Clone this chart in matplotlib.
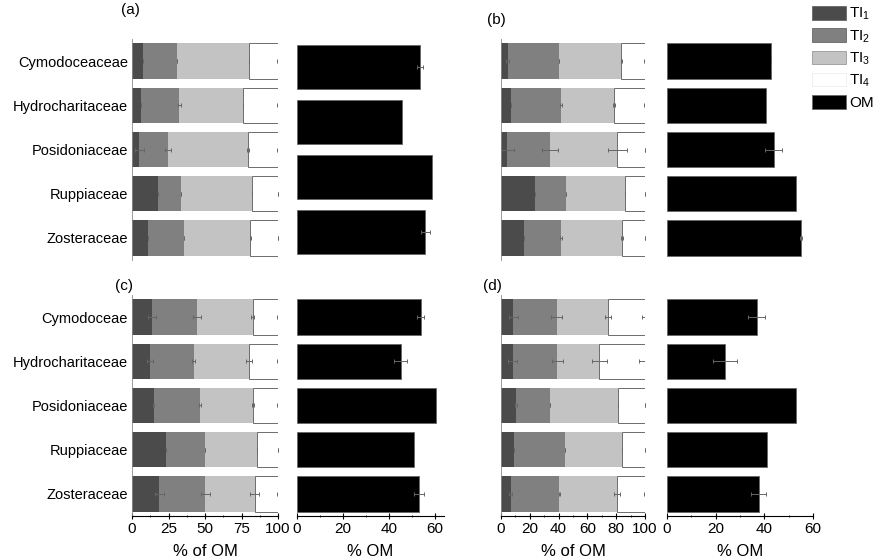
#!/usr/bin/env python
# -*- coding: utf-8 -*-

""" Trophic index (TI1-TI4) shares of organic matter and %OM per seagrass family.

Usage: python plot.py
Output image file: out.png
"""

import matplotlib
matplotlib.use('Agg')
import matplotlib.pyplot as plt
from matplotlib.patches import Patch
from matplotlib.ticker import MultipleLocator

plt.rcParams['font.family'] = ['Liberation Sans', 'DejaVu Sans']
plt.rcParams['mathtext.default'] = 'regular'

families_top = ['Cymodoceaceae', 'Hydrocharitaceae', 'Posidoniaceae', 'Ruppiaceae', 'Zosteraceae']
families_bottom = ['Cymodoceae', 'Hydrocharitaceae', 'Posidoniaceae', 'Ruppiaceae', 'Zosteraceae']

# panel (a)
a_ti1 = [7.8, 6.2, 5.0, 17.7, 11.3]
a_ti2 = [23.0, 26.2, 19.6, 16.1, 24.1]
a_ti3 = [49.0, 43.6, 54.7, 48.2, 45.6]
a_ti4 = [20.2, 24.0, 20.7, 18.0, 19.0]
a_err1 = [0, 0, 3.0, 0, 0]
a_err2 = [0, 1.0, 2.0, 0, 0]
a_err3 = [0, 0, 0.5, 0, 0.5]
a_err4 = [0.5, 0.5, 1.0, 0, 0]
a_om = [53.5, 45.5, 58.8, 55.8]
a_om_err = [1.4, 0, 0, 2.0]

# panel (b)
b_ti1 = [4.6, 7.0, 4.2, 23.9, 15.8]
b_ti2 = [35.4, 34.8, 30.1, 21.4, 26.0]
b_ti3 = [43.5, 36.7, 46.5, 40.7, 42.2]
b_ti4 = [16.5, 21.5, 19.2, 14.0, 16.0]
b_err1 = [1.0, 0, 4.6, 0, 0]
b_err2 = [0, 0.5, 5.6, 0, 0.5]
b_err3 = [0.5, 0.5, 6.4, 0, 0.5]
b_err4 = [1.0, 1.0, 0, 0, 0]
b_om = [42.7, 40.6, 43.8, 53.0, 55.0]
b_om_err = [0, 0, 3.4, 0, 0.5]

# panel (c)
c_ti1 = [13.7, 12.6, 14.8, 23.3, 18.8]
c_ti2 = [30.9, 29.7, 31.9, 26.6, 31.3]
c_ti3 = [38.2, 37.6, 36.1, 35.7, 33.9]
c_ti4 = [17.2, 20.1, 17.2, 14.4, 16.0]
c_err1 = [3.0, 2.0, 0.5, 0, 3.0]
c_err2 = [3.0, 1.0, 0.5, 0, 3.0]
c_err3 = [1.0, 2.0, 0.5, 0, 3.0]
c_err4 = [0.5, 1.0, 0.5, 0, 1.0]
c_om = [53.8, 45.1, 60.4, 50.9, 53.1]
c_om_err = [1.5, 3.0, 0, 0, 2.0]

# panel (d)
d_ti1 = [8.6, 8.1, 10.4, 9.3, 6.7]
d_ti2 = [30.1, 31.0, 23.6, 35.1, 33.8]
d_ti3 = [35.8, 29.2, 47.5, 39.8, 39.8]
d_ti4 = [25.5, 31.7, 18.5, 15.8, 19.7]
d_err1 = [3.0, 3.0, 0.5, 0, 1.0]
d_err2 = [4.0, 4.0, 0, 0, 0.5]
d_err3 = [2.0, 5.0, 0, 0, 2.0]
d_err4 = [2.0, 4.0, 0, 0, 1.0]
d_om = [36.8, 23.9, 52.9, 41.2, 37.7]
d_om_err = [3.4, 4.8, 0, 0, 3.0]

TI_COLORS = ['#4b4b4b', '#808080', '#c3c3c3', '#ffffff']
ERR_COLOR = '#666666'
W, H = 877, 558


def fig_rect(x0, y0, x1, y1):
    return [x0 / W, 1 - y1 / H, (x1 - x0) / W, (y1 - y0) / H]


def draw_stack(ax, segs, errs):
    n = len(segs[0])
    y = list(range(n))
    left = [0.0] * n
    for k, (seg, err) in enumerate(zip(segs, errs)):
        edge = '#555555' if k == 3 else 'none'
        ax.barh(y, seg, left=left, height=0.8, color=TI_COLORS[k],
                edgecolor=edge, linewidth=0.6)
        left = [l + s for l, s in zip(left, seg)]
        ax.errorbar(left, y, xerr=err, fmt='none', ecolor=ERR_COLOR,
                    elinewidth=0.7, capsize=1.2, capthick=0.7)
    ax.set_xlim(0, 100)
    ax.set_ylim(n - 0.5, -0.5)


def draw_om(ax, om, err, xmax):
    y = list(range(len(om)))
    ax.barh(y, om, height=0.8, color='black', edgecolor='#666666', linewidth=0.6)
    ax.errorbar(om, y, xerr=err, fmt='none', ecolor=ERR_COLOR,
                elinewidth=0.7, capsize=1.2, capthick=0.7)
    ax.set_xlim(0, xmax)
    ax.set_ylim(len(om) - 0.5, -0.5)
    ax.set_yticks([])


def style(ax, bottom_row):
    for side in ['top', 'right']:
        ax.spines[side].set_visible(False)
    ax.spines['left'].set_linewidth(0.6)
    ax.spines['left'].set_color('#888888')
    if bottom_row:
        ax.spines['bottom'].set_linewidth(0.8)
        ax.tick_params(axis='x', which='major', direction='inout', length=4,
                       width=0.8, labelsize=11, pad=2)
        ax.tick_params(axis='x', which='minor', direction='inout', length=2, width=0.6)
    else:
        ax.spines['bottom'].set_visible(False)
        ax.set_xticks([])
    ax.tick_params(axis='y', length=0, labelsize=10.5, pad=3)


def main():
    fig = plt.figure(figsize=(W / 100, H / 100), dpi=100)

    top = (39, 260)
    bot = (295, 516)
    ax_a = fig.add_axes(fig_rect(132, top[0], 278, top[1]))
    ax_a_om = fig.add_axes(fig_rect(297, top[0], 444, top[1]))
    ax_b = fig.add_axes(fig_rect(501, top[0], 645, top[1]))
    ax_b_om = fig.add_axes(fig_rect(667, top[0], 813, top[1]))
    ax_c = fig.add_axes(fig_rect(132, bot[0], 278, bot[1]))
    ax_c_om = fig.add_axes(fig_rect(297, bot[0], 444, bot[1]))
    ax_d = fig.add_axes(fig_rect(501, bot[0], 645, bot[1]))
    ax_d_om = fig.add_axes(fig_rect(667, bot[0], 813, bot[1]))

    draw_stack(ax_a, [a_ti1, a_ti2, a_ti3, a_ti4], [a_err1, a_err2, a_err3, a_err4])
    draw_stack(ax_b, [b_ti1, b_ti2, b_ti3, b_ti4], [b_err1, b_err2, b_err3, b_err4])
    draw_stack(ax_c, [c_ti1, c_ti2, c_ti3, c_ti4], [c_err1, c_err2, c_err3, c_err4])
    draw_stack(ax_d, [d_ti1, d_ti2, d_ti3, d_ti4], [d_err1, d_err2, d_err3, d_err4])

    draw_om(ax_a_om, a_om, a_om_err, 64)
    draw_om(ax_b_om, b_om, b_om_err, 60)
    draw_om(ax_c_om, c_om, c_om_err, 64)
    draw_om(ax_d_om, d_om, d_om_err, 60)

    ax_a.set_yticks(range(len(families_top)))
    ax_a.set_yticklabels(families_top)
    ax_c.set_yticks(range(len(families_bottom)))
    ax_c.set_yticklabels(families_bottom)
    for ax in [ax_b, ax_d]:
        ax.set_yticks([])

    for ax in [ax_a, ax_a_om, ax_b, ax_b_om]:
        style(ax, False)
    for ax in [ax_c, ax_c_om, ax_d, ax_d_om]:
        style(ax, True)
    for ax in [ax_a_om, ax_b_om, ax_c_om, ax_d_om]:
        ax.spines['left'].set_visible(False)

    ax_c.set_xticks([0, 25, 50, 75, 100])
    ax_c.xaxis.set_minor_locator(MultipleLocator(12.5))
    ax_d.set_xticks([0, 20, 40, 60, 80, 100])
    ax_d.xaxis.set_minor_locator(MultipleLocator(10))
    for ax in [ax_c_om, ax_d_om]:
        ax.set_xticks([0, 20, 40, 60])
        ax.xaxis.set_minor_locator(MultipleLocator(10))

    for ax in [ax_c, ax_d]:
        ax.set_xlabel('% of OM', fontsize=12, labelpad=6)
    for ax in [ax_c_om, ax_d_om]:
        ax.set_xlabel('% OM', fontsize=12, labelpad=6)

    fig.text(130 / W, 1 - 10 / H, '(a)', fontsize=11, ha='center', va='center')
    fig.text(496 / W, 1 - 20 / H, '(b)', fontsize=11, ha='center', va='center')
    fig.text(124 / W, 1 - 286 / H, '(c)', fontsize=11, ha='center', va='center')
    fig.text(492 / W, 1 - 286 / H, '(d)', fontsize=11, ha='center', va='center')

    handles = [Patch(facecolor=TI_COLORS[0], edgecolor='#666666', linewidth=0.6),
               Patch(facecolor=TI_COLORS[1], edgecolor='#666666', linewidth=0.6),
               Patch(facecolor=TI_COLORS[2], edgecolor='#999999', linewidth=0.6),
               Patch(facecolor=TI_COLORS[3], edgecolor='#eeeeee', linewidth=0.6),
               Patch(facecolor='black', edgecolor='#666666', linewidth=0.6)]
    labels = ['TI$_1$', 'TI$_2$', 'TI$_3$', 'TI$_4$', 'OM']
    fig.legend(handles, labels, loc='upper left', bbox_to_anchor=(812 / W, 1 - 6 / H),
               frameon=False, fontsize=11, handlelength=2.2, handleheight=1.0,
               labelspacing=0.38, handletextpad=0.25, borderaxespad=0, borderpad=0)

    plt.savefig('out.png', dpi=100)


if __name__ == '__main__':
    main()
